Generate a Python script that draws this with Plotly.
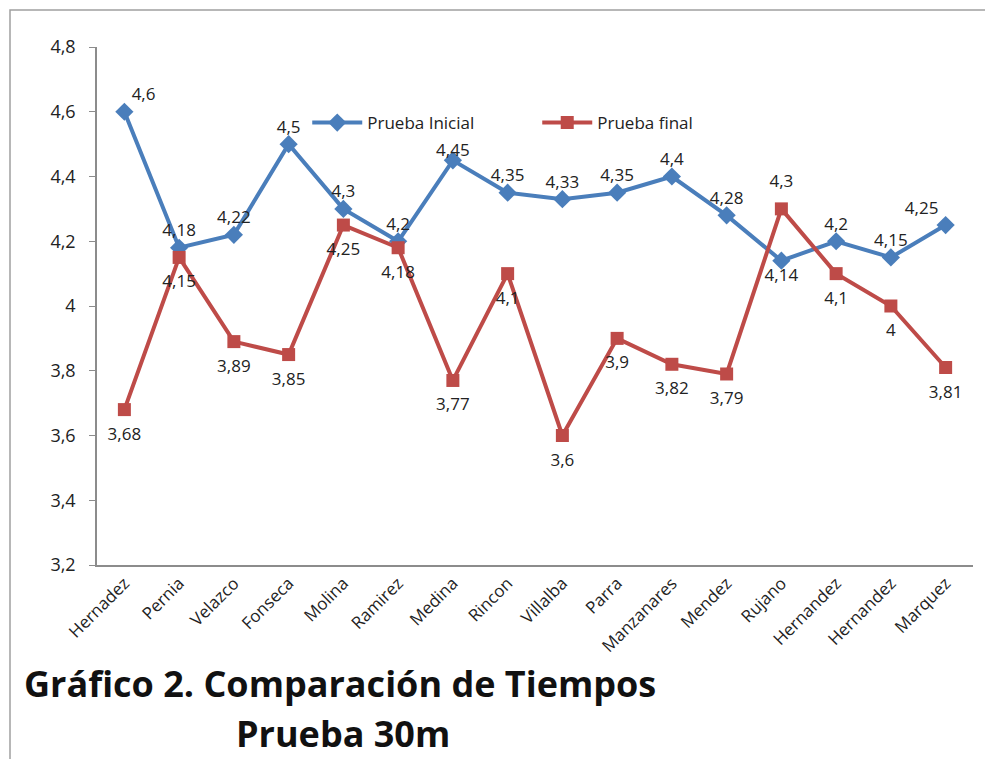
import plotly.graph_objects as go

nombres = ["Hernadez", "Pernia", "Velazco", "Fonseca", "Molina", "Ramirez", "Medina",
           "Rincon", "Villalba", "Parra", "Manzanares", "Mendez", "Rujano",
           "Hernandez", "Hernandez", "Marquez"]
prueba_inicial = [4.6, 4.18, 4.22, 4.5, 4.3, 4.2, 4.45, 4.35, 4.33, 4.35, 4.4, 4.28, 4.14, 4.2, 4.15, 4.25]
prueba_final = [3.68, 4.15, 3.89, 3.85, 4.25, 4.18, 3.77, 4.1, 3.6, 3.9, 3.82, 3.79, 4.3, 4.1, 4.0, 3.81]
y_ticks = [3.2, 3.4, 3.6, 3.8, 4.0, 4.2, 4.4, 4.6, 4.8]

AZUL = "#4a7ebb"
ROJO = "#be4b48"
FUENTE = "Open Sans, Liberation Sans, sans-serif"
TEXTO = "#222"

def etiqueta(v):
    return ("%g" % v).replace(".", ",")

pos_ini = ["top center"] * len(nombres)
pos_ini[0] = "top right"
pos_ini[12] = "bottom center"
pos_ini[15] = "top left"

# label gap around each point (a tighter gap under the legend)
gap_ini = [10] * len(nombres)
gap_ini[6] = 0

pos_fin = ["bottom center"] * len(nombres)
pos_fin[12] = "top center"

x_idx = list(range(len(nombres)))

fig = go.Figure()
fig.add_trace(go.Scatter(
    x=x_idx, y=prueba_inicial, name="Prueba Inicial", mode="lines+markers",
    line=dict(color=AZUL, width=4),
    marker=dict(symbol="diamond", size=14, color=AZUL, line=dict(width=0)),
))
fig.add_trace(go.Scatter(
    x=x_idx, y=prueba_final, name="Prueba final", mode="lines+markers",
    line=dict(color=ROJO, width=4),
    marker=dict(symbol="square", size=13, color=ROJO, line=dict(width=0)),
))

# data labels: invisible markers set how far the text sits from the points
fig.add_trace(go.Scatter(
    x=x_idx, y=prueba_inicial, mode="markers+text", showlegend=False, hoverinfo="skip",
    marker=dict(size=gap_ini, color="rgba(0,0,0,0)", line=dict(width=0, color="rgba(0,0,0,0)")),
    text=[etiqueta(v) for v in prueba_inicial], textposition=pos_ini,
    textfont=dict(family=FUENTE, size=17, color=TEXTO),
))
fig.add_trace(go.Scatter(
    x=x_idx, y=prueba_final, mode="markers+text", showlegend=False, hoverinfo="skip",
    marker=dict(size=26, color="rgba(0,0,0,0)", line=dict(width=0, color="rgba(0,0,0,0)")),
    text=[etiqueta(v) for v in prueba_final], textposition=pos_fin,
    textfont=dict(family=FUENTE, size=17, color=TEXTO),
))

fig.update_layout(
    width=985, height=759,
    margin=dict(l=97, r=12, t=47, b=194),
    paper_bgcolor="white", plot_bgcolor="white",
    separators=",.",
    showlegend=True,
    legend=dict(orientation="h", x=0.24, y=(565 - 123) / 518, xanchor="left", yanchor="middle",
                font=dict(family=FUENTE, size=17, color=TEXTO),
                bgcolor="rgba(0,0,0,0)", itemwidth=50, entrywidthmode="pixels", entrywidth=165),
    font=dict(family=FUENTE, size=17, color=TEXTO),
)
fig.update_xaxes(
    range=[-0.5, len(nombres) - 0.5],
    tickmode="array", tickvals=x_idx, ticktext=nombres, tickangle=-45,
    showline=True, linecolor="#8c8c8c", linewidth=1.5, showgrid=False, zeroline=False,
    ticks="", tickfont=dict(family=FUENTE, size=17, color=TEXTO),
)
fig.update_yaxes(
    range=[3.2, 4.8], tickmode="array", tickvals=y_ticks,
    ticktext=[etiqueta(v) for v in y_ticks],
    showline=True, linecolor="#8c8c8c", linewidth=1.5, showgrid=False, zeroline=False,
    ticks="outside", ticklen=6, tickcolor="#8c8c8c", ticklabelstandoff=10,
    tickfont=dict(family=FUENTE, size=18, color=TEXTO),
)

# outer chart border
fig.add_shape(type="rect", xref="paper", yref="paper",
              x0=(10 - 97) / 876, x1=1.05, y0=-0.5, y1=(565 - 10) / 518,
              line=dict(color="#a0a0a0", width=1.5), fillcolor="rgba(0,0,0,0)", layer="below")

TITULO = "Liberation Sans Narrow, Open Sans, sans-serif"
fig.add_annotation(text="<b>Gráfico 2. Comparación de Tiempos</b>", xref="paper", yref="paper",
                   x=(22 - 97) / 876, y=(565 - 683) / 518, xanchor="left", yanchor="middle",
                   showarrow=False, font=dict(family=TITULO, size=36, color="#111"))
fig.add_annotation(text="<b>Prueba 30m</b>", xref="paper", yref="paper",
                   x=(343 - 97) / 876, y=(565 - 733) / 518, xanchor="center", yanchor="middle",
                   showarrow=False, font=dict(family=TITULO, size=36, color="#111"))

fig.write_html("out.html")
